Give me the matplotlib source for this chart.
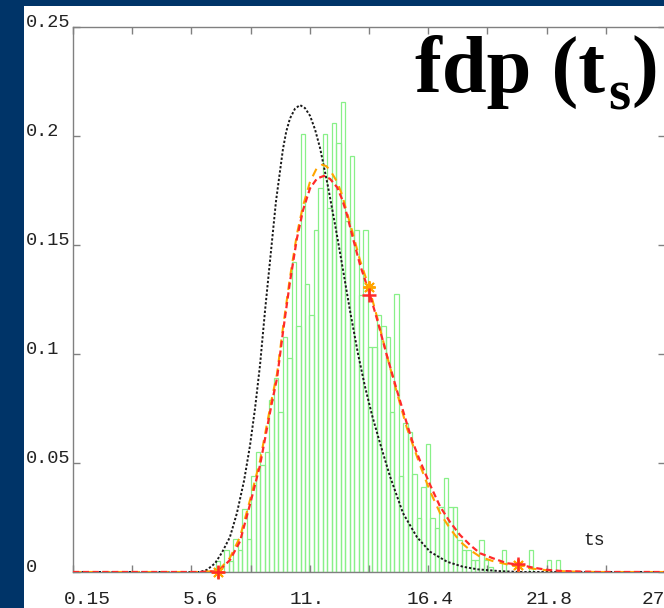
import numpy as np
import matplotlib
matplotlib.use("Agg")
import matplotlib.pyplot as plt
from matplotlib.patches import Rectangle
from matplotlib.transforms import ScaledTranslation

# ---- histogram of ts (normalised to a density) ----
bin_start = 6.68
bin_width = 0.205
hist_density = [
    0.005, 0.0, 0.010, 0.005, 0.015, 0.010, 0.029, 0.015, 0.044, 0.055,
    0.049, 0.055, 0.079, 0.089, 0.0735, 0.108, 0.098, 0.142, 0.113, 0.201,
    0.132, 0.118, 0.157, 0.176, 0.201, 0.167, 0.206, 0.197, 0.2157, 0.161,
    0.191, 0.157, 0.127, 0.157, 0.103, 0.103, 0.118, 0.113, 0.108, 0.0735,
    0.1275, 0.044, 0.0685, 0.064, 0.045, 0.0246, 0.039, 0.0586, 0.0246, 0.020,
    0.0297, 0.043, 0.0297, 0.0297, 0.0147, 0.010, 0.010, 0.0055, 0.0055, 0.0147,
    0.0055, 0.0025, 0.0, 0.0, 0.010, 0.0, 0.0, 0.0, 0.0, 0.0,
    0.010, 0.0, 0.0, 0.0, 0.0055, 0.0, 0.0055,
]

# ---- theoretical density (black, dotted) ----
black_t = [0.15, 5.97, 6.29, 6.66, 6.98, 7.34, 7.66, 7.99, 8.26, 8.49, 8.72,
           8.95, 9.18, 9.45, 9.77, 9.92, 10.09, 10.32, 10.55, 10.78, 11.01,
           11.24, 11.47, 11.83, 12.20, 12.48, 12.84, 13.21, 13.53, 13.85,
           14.22, 14.67, 15.27, 15.91, 16.51, 17.29, 18.02, 18.71, 19.71,
           20.63, 27.275]
black_pdf = [0.0, 0.0, 0.001, 0.004, 0.009, 0.016, 0.027, 0.042, 0.058, 0.075,
             0.095, 0.120, 0.143, 0.170, 0.194, 0.202, 0.208, 0.2125, 0.2142,
             0.2128, 0.2093, 0.203, 0.1945, 0.177, 0.157, 0.141, 0.120, 0.100,
             0.085, 0.072, 0.059, 0.044, 0.027, 0.016, 0.0093, 0.0047, 0.0024,
             0.0012, 0.0004, 0.0, 0.0]

# ---- fitted density (red, dashed) ----
red_t = [0.15, 5.97, 6.66, 6.89, 7.34, 7.80, 8.26, 8.72, 9.04, 9.27, 9.50,
         9.77, 10.09, 10.41, 10.69, 11.01, 11.33, 11.65, 11.93, 12.25, 12.48,
         12.70, 12.98, 13.30, 13.76, 14.08, 14.54, 15.00, 15.45, 15.68, 16.05,
         16.51, 16.97, 17.42, 17.88, 18.34, 18.80, 19.39, 20.04, 20.54, 21.23,
         21.87, 22.46, 23.38, 24.30, 27.275]
red_pdf = [0.0, 0.0, 0.0003, 0.001, 0.0055, 0.014, 0.031, 0.049, 0.066, 0.078,
           0.089, 0.110, 0.133, 0.153, 0.166, 0.176, 0.1805, 0.1817, 0.1803,
           0.1765, 0.171, 0.164, 0.153, 0.141, 0.127, 0.116, 0.099, 0.083,
           0.068, 0.0605, 0.051, 0.040, 0.030, 0.023, 0.017, 0.0124, 0.0086,
           0.0063, 0.004, 0.0035, 0.002, 0.001, 0.0005, 0.0002, 0.0, 0.0]

# ---- second fitted density (orange, long dashes) ----
orange_t = [0.15, 5.97, 6.66, 6.89, 7.34, 7.80, 8.26, 8.72, 9.04, 9.27, 9.50,
            9.77, 10.09, 10.41, 10.69, 11.01, 11.33, 11.56, 11.75, 11.93,
            12.25, 12.48, 12.70, 12.98, 13.30, 13.71, 14.08, 14.54, 15.00,
            15.45, 16.05, 16.51, 16.97, 17.42, 17.88, 18.34, 18.80, 19.39,
            20.04, 20.54, 21.23, 21.87, 22.46, 23.38, 24.30, 27.275]
orange_pdf = [0.0, 0.0, 0.0004, 0.0015, 0.0065, 0.016, 0.033, 0.051, 0.068,
              0.080, 0.091, 0.112, 0.135, 0.155, 0.168, 0.179, 0.1855, 0.1868,
              0.1862, 0.1843, 0.179, 0.173, 0.165, 0.155, 0.143, 0.1307, 0.117,
              0.099, 0.082, 0.066, 0.049, 0.037, 0.027, 0.020, 0.014, 0.0101,
              0.007, 0.005, 0.0035, 0.0028, 0.0015, 0.0008, 0.0004, 0.0001,
              0.0, 0.0]

# quantile markers on the two fitted densities
marker_t = [6.79, 13.71, 20.54]
red_marker_pdf = [0.0, 0.127, 0.0037]
orange_marker_pdf = [0.0, 0.1307, 0.003]

x_ticks = [0.15, 2.8625, 5.575, 8.2875, 11.0, 13.7125, 16.425, 19.1375,
           21.85, 24.5625, 27.275]
x_tick_labels = ["0.15", "", "5.6", "", "11.", "", "16.4", "", "21.8", "", "27.3"]
x_label_shift_px = [14, 0, 9, 0, -3, 0, 2, 0, 3, 0, 0]
y_ticks = [0.0, 0.05, 0.1, 0.15, 0.2, 0.25]
y_tick_labels = ["0", "0.05", "0.1", "0.15", "0.2", "0.25"]

W, H, DPI = 664, 608, 100

fig = plt.figure(figsize=(W / DPI, H / DPI), dpi=DPI, facecolor="#003468")
fig.patches.append(Rectangle((24 / W, 0), 1 - 24 / W, 1 - 6 / H,
                             transform=fig.transFigure, facecolor="white",
                             edgecolor="none", zorder=-5))

ax = fig.add_axes([73 / W, (H - 572) / H, (665 - 73) / W, (572 - 27) / H])
ax.set_zorder(2)
ax.set_facecolor("white")

# histogram outlines
lefts = bin_start + bin_width * np.arange(len(hist_density))
heights = np.asarray(hist_density)
keep = heights > 0
ax.bar(lefts[keep], heights[keep], width=bin_width, align="edge",
       fill=False, edgecolor="#88f088", linewidth=0.9, zorder=1)

ax.plot(black_t, black_pdf, color="#1a1a1a", lw=1.4,
        linestyle=(0, (1.2, 1.0)), zorder=3)
ax.plot(orange_t, orange_pdf, color="#ffa500", lw=1.5,
        linestyle=(0, (4.0, 3.0)), zorder=4)
ax.plot(red_t, red_pdf, color="#ff2a2a", lw=1.6,
        linestyle=(0, (2.8, 1.6)), zorder=5)
ax.plot(marker_t, orange_marker_pdf, linestyle="none", marker=(8, 2, 0),
        markersize=9, markeredgewidth=1.4, color="#ffa500", zorder=6,
        clip_on=False)
ax.plot(marker_t, red_marker_pdf, linestyle="none", marker="+",
        markersize=10, markeredgewidth=1.8, color="#ff2a2a", zorder=7,
        clip_on=False)

ax.set_xlim(0.15, 27.275)
ax.set_ylim(0, 0.25)

for side in ["left", "right", "top", "bottom"]:
    ax.spines[side].set_color("#808080")
    ax.spines[side].set_linewidth(1.0)

mono = "Liberation Mono"
ax.set_xticks(x_ticks)
ax.set_xticklabels(x_tick_labels, fontfamily=mono, fontsize=14, color="#222222")
ax.set_yticks(y_ticks)
ax.set_yticklabels(y_tick_labels, fontfamily=mono, fontsize=13.4, color="#222222")
ax.tick_params(axis="both", direction="in", length=5, width=1.0,
               color="#808080", top=True, right=True)
ax.tick_params(axis="x", pad=14)
ax.tick_params(axis="y", pad=33.8)
for lab in ax.get_yticklabels():
    lab.set_horizontalalignment("left")
    lab.set_verticalalignment("baseline")
for lab, dx in zip(ax.get_xticklabels(), x_label_shift_px):
    lab.set_transform(lab.get_transform() +
                      ScaledTranslation(dx / DPI, 0, fig.dpi_scale_trans))

ax.text(0.862, 0.0495, "ts", transform=ax.transAxes, ha="left",
        va="baseline", fontfamily=mono, fontsize=13, color="#222222")

# title "fdp (t_s)" assembled from pieces so the subscript sits low
serif = dict(fontfamily="Liberation Serif", fontweight="bold", color="black",
             ha="left", va="baseline", zorder=10)
renderer = fig.canvas.get_renderer()
base_px = 92
t_main = fig.text(415 / W, 1 - base_px / H, "fdp (t", fontsize=58, **serif)
x_px = t_main.get_window_extent(renderer).x1
t_sub = fig.text((x_px + 3) / W, 1 - (base_px + 17) / H, "s", fontsize=41, **serif)
x_px = t_sub.get_window_extent(renderer).x1
fig.text((x_px + 1) / W, 1 - base_px / H, ")", fontsize=58, **serif)

fig.savefig("out.png", dpi=DPI, facecolor=fig.get_facecolor())
